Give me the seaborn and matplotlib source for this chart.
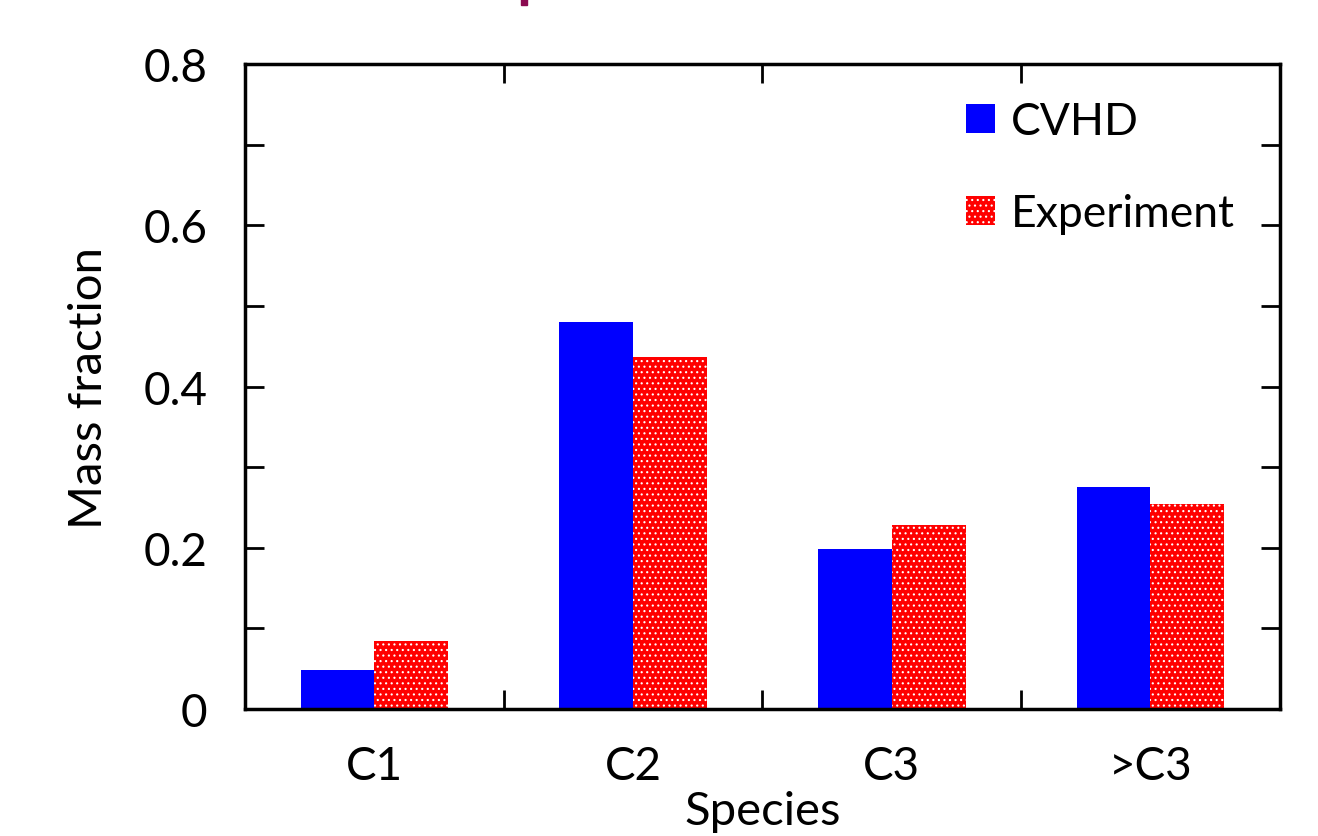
import matplotlib
matplotlib.use("Agg")
import matplotlib.pyplot as plt
import seaborn as sns
import pandas as pd
from matplotlib.patches import Rectangle
from matplotlib.ticker import FixedLocator

species = ["C1", "C2", "C3", ">C3"]
cvhd = [0.048, 0.480, 0.198, 0.275]
experiment = [0.084, 0.437, 0.228, 0.254]
series_names = ["CVHD", "Experiment"]
ytick_values = [0, 0.2, 0.4, 0.6, 0.8]
ytick_labels = ["0", "0.2", "0.4", "0.6", "0.8"]

df = pd.DataFrame({
    "Species": species * 2,
    "Mass fraction": cvhd + experiment,
    "Series": [series_names[0]] * 4 + [series_names[1]] * 4,
})

sns.set_style("ticks")
plt.rcParams['font.family'] = ['Lato', 'DejaVu Sans']
plt.rcParams['text.color'] = 'black'
plt.rcParams['axes.labelcolor'] = 'black'
plt.rcParams['xtick.color'] = 'black'
plt.rcParams['ytick.color'] = 'black'
plt.rcParams['hatch.linewidth'] = 0.8

fig = plt.figure(figsize=(13.18, 8.37), dpi=100)
ax = fig.add_axes([0.186, 0.152, 0.785, 0.770])

sns.barplot(data=df, x="Species", y="Mass fraction", hue="Series",
            palette={"CVHD": "#0000ff", "Experiment": "#ff0000"},
            width=0.57, saturation=1, ax=ax, legend=True)

n = len(species)
for i, bar in enumerate(ax.patches[:2 * n]):
    bar.set_linewidth(0)
    if i >= n:
        bar.set_facecolor("#ff0000")
        bar.set_edgecolor("white")
        bar.set_hatch("...")

ax.set_xlim(-0.5, 3.5)
ax.set_ylim(0, 0.8)
ax.set_yticks(ytick_values)
ax.set_yticklabels(ytick_labels)
ax.yaxis.set_minor_locator(FixedLocator([0.1, 0.3, 0.5, 0.7]))
ax.xaxis.set_minor_locator(FixedLocator([0.5, 1.5, 2.5]))

ax.tick_params(axis="y", which="both", direction="in", left=True, right=True,
               length=14, width=2, labelsize=33, pad=27)
ax.tick_params(axis="x", which="major", length=0, labelsize=33, pad=26)
ax.tick_params(axis="x", which="minor", direction="in", top=True, bottom=True,
               length=14, width=2)

for s in ax.spines.values():
    s.set_visible(True)
    s.set_linewidth(2.5)
    s.set_color("black")

ax.set_xlabel("Species", fontsize=34, labelpad=2)
ax.set_ylabel("Mass fraction", fontsize=34, labelpad=24)

handles, labels = ax.get_legend_handles_labels()
for h in handles:
    h.set_linewidth(0)
handles[1].set_edgecolor("white")
handles[1].set_hatch("...")
ax.legend(handles, labels, loc="upper right", frameon=False, fontsize=32,
          handlelength=0.65, handleheight=0.65, handletextpad=0.35,
          labelspacing=1.15, bbox_to_anchor=(0.995, 1.005))

fig.patches.append(Rectangle((0.3955, 0.993), 0.0045, 0.007,
                             transform=fig.transFigure, color="#8b0a50"))

fig.savefig("out.png", dpi=100)
